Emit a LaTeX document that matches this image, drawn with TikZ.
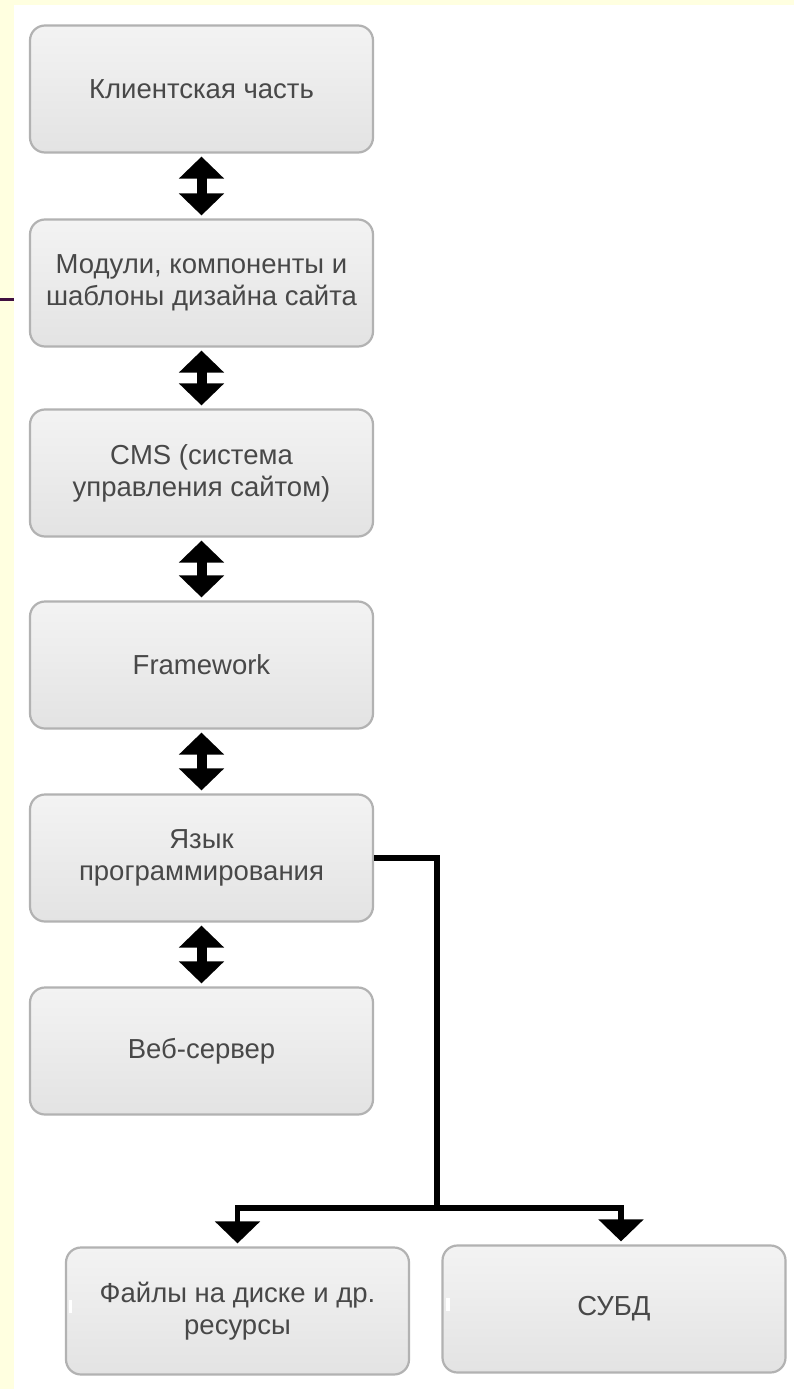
\documentclass[tikz,border=0pt]{standalone}
\usepackage{fontspec}
\setmainfont{Liberation Sans}
\usetikzlibrary{arrows.meta,calc}
\definecolor{slidebg}{HTML}{FFFFE0}
\definecolor{rulepurple}{HTML}{401040}
\definecolor{boxedge}{HTML}{B2B2B2}
\definecolor{boxtop}{HTML}{F3F3F3}
\definecolor{boxbottom}{HTML}{E3E3E3}
\definecolor{boxtext}{HTML}{484848}
\tikzset{
  layer/.style={draw=boxedge, line width=2.2pt, rounded corners=15pt,
    top color=boxtop, bottom color=boxbottom,
    minimum width=343pt, minimum height=127pt, inner sep=0pt,
    align=center, text=boxtext,
    font=\fontsize{27.5}{32}\selectfont},
  both/.style={line width=10pt,
    {Triangle[width=44pt,length=22pt]}-{Triangle[width=44pt,length=22pt]},
    shorten <=3pt, shorten >=3pt},
  feed/.style={line width=5.5pt, line join=miter},
  feedtip/.style={feed, -{Triangle[width=44pt,length=22pt]}, shorten >=3pt}
}
\begin{document}
\begin{tikzpicture}[x=1pt,y=-1pt]
  % page: pale slide background with a white panel
  \useasboundingbox (0,0) rectangle (794,1389);
  \fill[slidebg] (0,0) rectangle (794,1389);
  \fill[white] (14,5) rectangle (794,1389);
  \draw[rulepurple, line width=3pt] (0,299) -- (14,299);

  % stack of layers
  \node[layer] (b1) at (201.5,89)  {Клиентская часть};
  \node[layer] (b2) at (201.5,283) {Модули, компоненты и\\шаблоны дизайна сайта};
  \node[layer] (b3) at (201.5,473) {CMS (система\\управления сайтом)};
  \node[layer] (b4) at (201.5,665) {Framework};
  \node[layer] (b5) at (201.5,858) {Язык\\программирования};
  \node[layer] (b6) at (201.5,1051) {Веб-сервер};
  \node[layer] (b7) at (237.5,1311) {Файлы на диске и др.\\ресурсы};
  \node[layer] (b8) at (614,1309) {СУБД};

  % small white marks on the left edges of the bottom boxes
  \fill[white] (69,1300) rectangle (72,1313);
  \fill[white] (446,1298) rectangle (450,1311);

  % two-way links between neighbouring layers
  \draw[both] (b1.south) -- (b2.north);
  \draw[both] (b2.south) -- (b3.north);
  \draw[both] (b3.south) -- (b4.north);
  \draw[both] (b4.south) -- (b5.north);
  \draw[both] (b5.south) -- (b6.north);

  % branch from the language to storage
  \coordinate (split) at (437,1208);
  \coordinate (dbin) at ($(b8.north)+(7,0)$);
  \draw[feed] (b5.east) -| (split);
  \draw[feedtip] (split) -| (b7.north);
  \draw[feedtip] (split) -| (dbin);
\end{tikzpicture}
\end{document}
